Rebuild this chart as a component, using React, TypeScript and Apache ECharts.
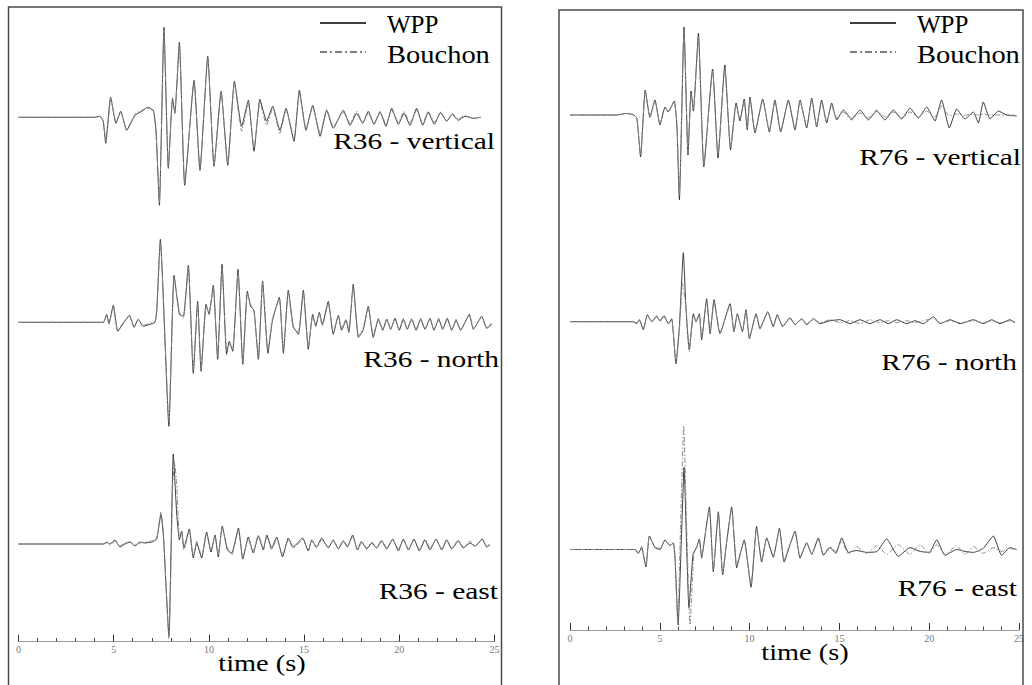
import React, { useEffect, useRef } from "react";
import * as echarts from "echarts";

// ---- data: [time (s), amplitude (arbitrary units)] ----
const SERIES_NAMES = ["WPP", "Bouchon"];
const TRACE_LABELS = ["R36 - vertical", "R36 - north", "R36 - east", "R76 - vertical", "R76 - north", "R76 - east"];
const TIME_MIN = 0;
const TIME_MAX = 25;
const TIME_STEP = 5;
const AXIS_TITLE = "time (s)";

const R36_VERTICAL_WPP = [[0,0],[4.0,0],[4.28,1],[4.45,-4],[4.58,-26],[4.84,20],[5.12,-6],[5.37,6],[5.68,-13],[6.12,2],[6.56,7],[6.77,10],[7.08,7],[7.22,-13],[7.40,-88],[7.64,90],[7.87,-51],[8.09,19],[8.21,4],[8.45,75],[8.73,-68],[9.22,37],[9.53,-53],[9.94,61],[10.27,-49],[10.64,26],[10.99,-48],[11.34,36],[11.72,-9],[12.07,17],[12.37,-34],[12.68,18],[13.03,-4],[13.35,11],[13.73,-13],[14.05,9],[14.47,-24],[14.75,27],[15.10,-13],[15.45,12],[15.84,-19],[16.19,7],[16.53,-11],[17.06,7],[17.41,-8],[17.76,4],[18.08,-6],[18.37,6],[18.67,-7],[18.99,5],[19.30,-9],[19.60,9],[19.95,-7],[20.25,4],[20.56,-8],[20.91,9],[21.23,-8],[21.52,5],[21.84,-7],[22.17,5],[22.49,-4],[22.78,3],[23.10,-3],[23.45,1],[23.89,-1],[24.28,0]];
const R36_VERTICAL_BOUCHON = [[0,0],[4.0,0],[4.28,1],[4.45,-4],[4.60,-24],[4.85,19],[5.12,-5],[5.37,6],[5.68,-12],[6.12,3],[6.56,8],[6.77,9],[7.08,6],[7.22,-12],[7.40,-85],[7.64,88],[7.87,-50],[8.09,18],[8.21,5],[8.45,73],[8.73,-66],[9.22,36],[9.53,-52],[9.94,59],[10.27,-48],[10.64,25],[10.99,-47],[11.34,34],[11.72,-14],[12.07,14],[12.37,-30],[12.68,15],[13.03,-8],[13.35,9],[13.73,-16],[14.05,7],[14.47,-20],[14.75,24],[15.10,-11],[15.45,10],[15.84,-16],[16.19,8],[16.53,-9],[17.06,5],[17.41,-6],[17.76,6],[18.08,-5],[18.37,4],[18.67,-6],[18.99,6],[19.30,-7],[19.60,7],[19.95,-5],[20.25,6],[20.56,-6],[20.91,7],[21.23,-6],[21.52,6],[21.84,-5],[22.17,4],[22.49,-4],[22.78,4],[23.10,-2],[23.45,2],[23.89,-1],[24.28,0]];

const R36_NORTH_WPP = [[0,0],[4.45,0],[4.63,8],[4.75,-1],[4.98,17],[5.21,-9],[5.51,-1],[5.82,7],[6.07,-5],[6.29,3],[6.55,-4],[6.91,-2],[7.17,0],[7.26,11],[7.45,83],[7.90,-104],[8.17,47],[8.45,8],[8.66,6],[8.92,57],[9.18,-51],[9.41,21],[9.59,-49],[9.85,18],[10.01,8],[10.23,37],[10.46,-37],[10.69,58],[10.93,-32],[11.07,-19],[11.25,-29],[11.53,53],[11.78,-42],[12.02,31],[12.19,16],[12.37,12],[12.60,-37],[12.82,41],[13.10,-31],[13.33,1],[13.70,25],[13.91,-31],[14.17,32],[14.43,-4],[14.70,-12],[14.96,32],[15.22,-27],[15.45,8],[15.61,-4],[15.80,10],[15.96,-2],[16.27,21],[16.53,-12],[16.80,7],[16.97,-8],[17.20,2],[17.35,-10],[17.58,38],[17.85,-15],[18.10,-8],[18.37,16],[18.63,-15],[18.90,3],[19.13,-8],[19.34,3],[19.55,-7],[19.77,4],[20.00,-8],[20.21,3],[20.42,-7],[20.65,3],[20.88,-8],[21.12,3],[21.35,-7],[21.61,4],[21.82,-8],[22.07,3],[22.28,-7],[22.52,4],[22.75,-8],[22.98,2],[23.22,-8],[23.68,8],[23.89,-7],[24.33,6],[24.59,-6],[24.85,-2]];
const R36_NORTH_BOUCHON = [[0,0],[4.45,0],[4.63,7],[4.75,-2],[4.98,15],[5.21,-8],[5.51,0],[5.82,6],[6.07,-4],[6.29,3],[6.55,-3],[6.91,-1],[7.17,1],[7.26,12],[7.45,80],[7.90,-100],[8.17,45],[8.45,10],[8.66,4],[8.92,55],[9.18,-48],[9.41,19],[9.59,-47],[9.85,16],[10.01,10],[10.23,35],[10.46,-35],[10.69,55],[10.93,-28],[11.07,-22],[11.25,-26],[11.53,50],[11.78,-40],[12.02,29],[12.19,18],[12.37,10],[12.60,-35],[12.82,39],[13.10,-29],[13.33,3],[13.70,23],[13.91,-29],[14.17,30],[14.43,-6],[14.70,-10],[14.96,30],[15.22,-25],[15.45,6],[15.61,-2],[15.80,8],[15.96,-4],[16.27,19],[16.53,-10],[16.80,6],[16.97,-6],[17.20,3],[17.35,-8],[17.58,35],[17.85,-13],[18.10,-6],[18.37,14],[18.63,-13],[18.90,4],[19.13,-7],[19.34,4],[19.55,-6],[19.77,3],[20.00,-7],[20.21,4],[20.42,-6],[20.65,4],[20.88,-7],[21.12,4],[21.35,-6],[21.61,3],[21.82,-7],[22.07,4],[22.28,-6],[22.52,3],[22.75,-7],[22.98,3],[23.22,-7],[23.68,7],[23.89,-6],[24.33,5],[24.59,-5],[24.85,-1]];

const R36_EAST_WPP = [[0,0],[4.46,0],[4.63,2],[4.80,0],[5.07,4],[5.33,-3],[5.59,0],[5.86,2],[6.12,-2],[6.38,2],[6.64,1],[7.00,2],[7.26,5],[7.48,30],[7.61,9],[7.90,-92],[8.13,90],[8.31,30],[8.45,4],[8.57,13],[8.69,-4],[8.97,15],[9.18,-14],[9.36,1],[9.62,-14],[9.88,12],[10.11,-8],[10.32,9],[10.49,-13],[10.70,18],[10.97,-6],[11.20,-9],[11.55,16],[11.78,-15],[12.07,7],[12.33,-9],[12.60,8],[12.86,-6],[13.04,9],[13.30,-4],[13.56,7],[13.87,-13],[14.17,6],[14.43,-3],[14.92,6],[15.22,-7],[15.40,4],[15.66,-3],[15.92,6],[16.27,-4],[16.53,4],[16.80,-5],[17.06,3],[17.27,-3],[17.55,9],[17.80,-6],[18.02,2],[18.29,-5],[18.55,1],[18.81,-4],[19.07,3],[19.34,-5],[19.65,5],[19.95,-7],[20.21,5],[20.48,-6],[20.77,5],[21.05,-7],[21.35,4],[21.61,-6],[21.93,5],[22.23,-6],[22.49,4],[22.75,-5],[23.10,3],[23.36,-4],[23.71,1],[23.98,-2],[24.36,5],[24.59,-3],[24.76,-1]];
const R36_EAST_BOUCHON = [[0,0],[4.46,0],[4.63,1],[4.80,-1],[5.07,3],[5.33,-2],[5.59,1],[5.86,2],[6.12,-1],[6.38,1],[6.64,2],[7.00,3],[7.26,6],[7.48,32],[7.61,10],[7.90,-95],[8.10,60],[8.20,82],[8.31,60],[8.45,8],[8.57,11],[8.69,-6],[8.97,13],[9.18,-12],[9.36,3],[9.62,-12],[9.88,10],[10.11,-6],[10.32,8],[10.49,-11],[10.70,16],[10.97,-4],[11.20,-11],[11.55,14],[11.78,-13],[12.07,5],[12.33,-7],[12.60,9],[12.86,-4],[13.04,7],[13.30,-6],[13.56,5],[13.87,-10],[14.17,4],[14.43,-4],[14.92,4],[15.22,-5],[15.40,3],[15.66,-4],[15.92,4],[16.27,-3],[16.53,3],[16.80,-4],[17.06,4],[17.27,-2],[17.55,7],[17.80,-5],[18.02,3],[18.29,-4],[18.55,2],[18.81,-3],[19.07,4],[19.34,-4],[19.65,4],[19.95,-5],[20.21,4],[20.48,-5],[20.77,4],[21.05,-5],[21.35,5],[21.61,-4],[21.93,4],[22.23,-5],[22.49,5],[22.75,-4],[23.10,4],[23.36,-3],[23.71,3],[23.98,-2],[24.36,4],[24.59,-2],[24.76,0]];

const R76_VERTICAL_WPP = [[0,0],[2.6,0],[3.1,1.5],[3.5,0.5],[3.72,-3],[3.93,-42],[4.19,25],[4.45,-2],[4.73,15],[5.01,-10],[5.29,8],[5.47,3],[5.80,14],[5.95,-10],[6.09,-85],[6.35,88],[6.57,-40],[6.74,24],[6.87,4],[7.15,82],[7.45,-52],[7.94,46],[8.24,-43],[8.62,50],[8.94,-35],[9.25,12],[9.46,-6],[9.70,16],[9.87,-15],[10.02,18],[10.30,-18],[10.73,16],[11.10,-17],[11.41,15],[11.73,-17],[12.16,15],[12.53,-15],[12.81,15],[13.18,-13],[13.46,17],[13.73,-12],[14.01,15],[14.29,-8],[14.57,12],[14.85,-5],[15.22,5],[15.68,-4],[16.15,5],[16.61,-5],[17.07,4],[17.54,-5],[18.00,5],[18.47,-4],[18.93,7],[19.40,-3],[19.86,8],[20.32,-6],[20.69,15],[21.12,-13],[21.53,6],[21.99,-4],[22.46,3],[22.74,-8],[23.01,13],[23.39,-4],[23.85,4],[24.31,0],[24.87,-1]];
const R76_VERTICAL_BOUCHON = [[0,0],[2.6,0],[3.1,1.5],[3.5,0.5],[3.72,-3],[3.93,-40],[4.19,24],[4.45,-3],[4.73,14],[5.01,-9],[5.29,7],[5.47,4],[5.80,13],[5.95,-8],[6.09,-80],[6.35,85],[6.57,-38],[6.74,22],[6.87,6],[7.15,78],[7.45,-50],[7.94,44],[8.24,-40],[8.62,47],[8.94,-33],[9.25,10],[9.46,-4],[9.70,14],[9.87,-13],[10.02,16],[10.30,-16],[10.73,14],[11.10,-15],[11.41,14],[11.73,-15],[12.16,13],[12.53,-13],[12.81,13],[13.18,-11],[13.46,14],[13.73,-10],[14.01,12],[14.29,-6],[14.57,9],[14.85,-3],[15.22,3],[15.68,-5],[16.15,2],[16.61,-3],[17.07,5],[17.54,-2],[18.00,3],[18.47,-3],[18.93,3],[19.40,-2],[19.86,4],[20.32,-2],[20.69,9],[21.12,-1],[21.53,1],[21.99,0],[22.46,1],[22.74,0],[23.01,1],[23.39,0],[23.85,0],[24.31,0],[24.87,0]];

const R76_NORTH_WPP = [[0,0],[3.50,0],[3.71,-2],[3.86,2],[4.08,-8],[4.31,7],[4.55,0],[4.83,5],[5.01,1],[5.23,6],[5.47,-2],[5.66,3],[5.90,-42],[6.09,-5],[6.31,69],[6.46,12],[6.64,-28],[6.87,8],[7.02,0],[7.20,8],[7.33,-18],[7.61,23],[7.80,-12],[8.02,22],[8.35,-12],[8.91,18],[9.13,-10],[9.32,8],[9.60,-10],[9.80,12],[9.99,-17],[10.36,8],[10.58,-7],[11.01,10],[11.32,-5],[11.54,7],[11.84,-5],[12.25,4],[12.53,-3],[12.90,3],[13.18,-3],[13.55,3],[13.92,-2],[14.48,1],[15.03,2],[15.59,-2],[16.15,2],[16.70,-2],[17.26,2],[17.72,-2],[18.19,2],[18.75,-2],[19.21,1],[19.67,-2],[20.23,5],[20.60,-2],[21.16,2],[21.72,-2],[22.46,2],[23.01,-2],[23.48,2],[23.94,-2],[24.50,2],[24.78,-1]];
const R76_NORTH_BOUCHON = [[0,0],[3.50,0],[3.71,-1],[3.86,2],[4.08,-7],[4.31,6],[4.55,1],[4.83,6],[5.01,0],[5.23,5],[5.47,-1],[5.66,2],[5.90,-40],[6.09,-8],[6.27,38],[6.46,15],[6.64,-30],[6.87,6],[7.02,1],[7.20,7],[7.33,-16],[7.61,21],[7.80,-10],[8.02,20],[8.35,-11],[8.91,16],[9.13,-9],[9.32,7],[9.60,-9],[9.80,10],[9.99,-15],[10.36,7],[10.58,-6],[11.01,9],[11.32,-4],[11.54,6],[11.84,-4],[12.25,3],[12.53,-2],[12.90,2],[13.18,-2],[13.55,2],[13.92,-1],[14.48,2],[15.03,-1],[15.59,1],[16.15,-2],[16.70,2],[17.26,-1],[17.72,1],[18.19,-1],[18.75,1],[19.21,-1],[19.67,1],[20.23,3],[20.60,-1],[21.16,1],[21.72,-1],[22.46,1],[23.01,-1],[23.48,1],[23.94,-1],[24.50,1],[24.78,0]];

const R76_EAST_WPP = [[0,0],[3.62,0],[3.80,-4],[3.99,2],[4.12,-9],[4.23,-18],[4.42,14],[4.73,2],[5.01,0],[5.29,10],[5.57,4],[5.75,7],[5.85,-10],[6.02,-78],[6.20,10],[6.35,85],[6.50,0],[6.62,-60],[6.85,-5],[7.05,2],[7.20,11],[7.33,-9],[7.45,5],[7.76,44],[7.98,-23],[8.26,39],[8.50,-26],[8.72,7],[9.00,44],[9.28,-19],[9.50,-3],[9.70,10],[10.08,-39],[10.39,24],[10.67,-13],[10.95,12],[11.32,-8],[11.66,22],[11.92,-13],[12.25,5],[12.53,19],[12.81,-9],[13.18,7],[13.46,-5],[13.83,12],[14.11,-6],[14.48,2],[14.80,-4],[15.13,12],[15.50,-3],[15.95,-1],[16.52,-3],[17.10,-2],[17.63,11],[18.28,-7],[18.93,2],[19.49,-2],[20.00,-3],[20.42,10],[20.88,-6],[21.53,0],[22.00,-2],[22.46,-3],[23.00,1],[23.57,14],[24.03,-6],[24.50,2],[24.87,0]];
const R76_EAST_BOUCHON = [[0,0],[3.62,0],[3.80,-3],[3.99,3],[4.12,-8],[4.23,-16],[4.42,13],[4.73,3],[5.01,1],[5.29,9],[5.57,5],[5.75,6],[5.85,-8],[6.00,-78],[6.15,20],[6.33,128],[6.50,20],[6.68,-78],[6.90,-3],[7.05,3],[7.20,10],[7.33,-8],[7.45,6],[7.76,42],[7.98,-21],[8.26,37],[8.50,-24],[8.72,8],[9.00,42],[9.28,-17],[9.50,-2],[9.70,9],[10.08,-36],[10.39,22],[10.67,-11],[10.95,11],[11.32,-6],[11.66,20],[11.92,-11],[12.25,6],[12.53,17],[12.81,-7],[13.18,6],[13.46,-4],[13.83,10],[14.11,-5],[14.48,3],[14.80,-2],[15.13,9],[15.50,-5],[15.95,3],[16.52,-4],[17.10,4],[17.63,-5],[18.28,5],[18.93,-5],[19.49,5],[20.00,-4],[20.42,5],[20.88,-5],[21.53,4],[22.00,-5],[22.46,3],[23.00,-4],[23.57,2],[24.03,-2],[24.50,1],[24.87,0]];

// ---- layout (pixels) ----
const PANELS = [
  { left: 18.5, width: 476, axisY: 641.5, box: [8.5, 7, 493, 700], legendLineX: 320, legendTextX: 387, titleX: 262, titleY: 663 },
  { left: 570, width: 449, axisY: 630, box: [559, 10, 464, 700], legendLineX: 850, legendTextX: 917, titleX: 805, titleY: 652 },
];

const TRACES = [
  { panel: 0, wpp: R36_VERTICAL_WPP, bou: R36_VERTICAL_BOUCHON, base: 117.3, h: 110, labelX: 495, labelY: 141 },
  { panel: 0, wpp: R36_NORTH_WPP, bou: R36_NORTH_BOUCHON, base: 322.3, h: 140, labelX: 499, labelY: 359 },
  { panel: 0, wpp: R36_EAST_WPP, bou: R36_EAST_BOUCHON, base: 544, h: 140, labelX: 498, labelY: 591 },
  { panel: 1, wpp: R76_VERTICAL_WPP, bou: R76_VERTICAL_BOUCHON, base: 115, h: 110, labelX: 1021, labelY: 157 },
  { panel: 1, wpp: R76_NORTH_WPP, bou: R76_NORTH_BOUCHON, base: 321.7, h: 140, labelX: 1017, labelY: 362 },
  { panel: 1, wpp: R76_EAST_WPP, bou: R76_EAST_BOUCHON, base: 554, h: 140, labelX: 1017, labelY: 588 },
];

const SERIF = "Liberation Serif";

function txt(text: string, x: number, y: number, size: number, sx: number, align: string) {
  return {
    type: "text", x, y, scaleX: sx, z: 20,
    style: { text, fontFamily: SERIF, fontSize: size, fill: "#000", align, verticalAlign: "middle", textAlign: align, textVerticalAlign: "middle" },
  };
}

function buildOption() {
  const grid: any[] = [];
  const xAxis: any[] = [];
  const yAxis: any[] = [];
  const series: any[] = [];
  const graphic: any[] = [];

  TRACES.forEach((tr, i) => {
    const p = PANELS[tr.panel];
    grid.push({ left: p.left, width: p.width, top: tr.base - tr.h, height: 2 * tr.h });
    xAxis.push({ type: "value", gridIndex: i, min: TIME_MIN, max: TIME_MAX, show: false });
    yAxis.push({ type: "value", gridIndex: i, min: -tr.h, max: tr.h, show: false });
    series.push({
      type: "line", name: SERIES_NAMES[0], xAxisIndex: i, yAxisIndex: i, data: tr.wpp,
      showSymbol: false, symbol: "none", smooth: 0.15, clip: false, z: 2,
      lineStyle: { color: "#2a2a2a", width: 0.9 },
    });
    series.push({
      type: "line", name: SERIES_NAMES[1], xAxisIndex: i, yAxisIndex: i, data: tr.bou,
      showSymbol: false, symbol: "none", smooth: 0.15, clip: false, z: 3,
      lineStyle: { color: "#8a8a8a", width: 1, type: [5, 2, 1.5, 2] },
    });
    graphic.push(txt(TRACE_LABELS[i], tr.labelX, tr.labelY, 23, 1.28, "right"));
  });

  PANELS.forEach((p, k) => {
    const gi = TRACES.length + k;
    grid.push({ left: p.left, width: p.width, top: 20, height: p.axisY - 20 });
    xAxis.push({
      type: "value", gridIndex: gi, min: TIME_MIN, max: TIME_MAX, interval: TIME_STEP, position: "bottom",
      axisLine: { show: true, onZero: false, lineStyle: { color: "#9a9a9a", width: 1 } },
      axisTick: { show: true, inside: true, length: 7, lineStyle: { color: "#333", width: 1 } },
      minorTick: { show: true, splitNumber: 5, length: 3.5, lineStyle: { color: "#444", width: 1 } },
      axisLabel: { show: true, fontSize: 10, color: "#777", margin: 3, fontFamily: "Liberation Sans Narrow" },
      splitLine: { show: false },
    });
    yAxis.push({ type: "value", gridIndex: gi, min: -1, max: 1, show: false });
    series.push({ type: "line", xAxisIndex: gi, yAxisIndex: gi, data: [], silent: true });

    const [bx, by, bw, bh] = p.box;
    graphic.push({ type: "rect", shape: { x: bx, y: by, width: bw, height: bh }, style: { fill: "none", stroke: "#4a4a4a", lineWidth: 1.5 }, z: 10 });
    // legend
    graphic.push({ type: "line", shape: { x1: p.legendLineX, y1: 23, x2: p.legendLineX + 46, y2: 23 }, style: { stroke: "#000", lineWidth: 1.3 } });
    graphic.push({ type: "line", shape: { x1: p.legendLineX, y1: 52, x2: p.legendLineX + 46, y2: 52 }, style: { stroke: "#000", lineWidth: 1.2, lineDash: [7, 3, 2, 3] } });
    graphic.push(txt(SERIES_NAMES[0], p.legendTextX, 24, 25, 1.0, "left"));
    graphic.push(txt(SERIES_NAMES[1], p.legendTextX, 55, 25, 1.14, "left"));
    graphic.push(txt(AXIS_TITLE, p.titleX, p.titleY, 24, 1.18, "center"));
  });

  return { animation: false, backgroundColor: "#fff", grid, xAxis, yAxis, series, graphic };
}

export default function App() {
  const ref = useRef<HTMLDivElement>(null);
  useEffect(() => {
    if (!ref.current) return;
    const chart = echarts.init(ref.current, undefined, { renderer: "svg" });
    chart.setOption(buildOption() as any);
    return () => chart.dispose();
  }, []);
  return <div ref={ref} style={{ position: "absolute", left: 0, top: 0, width: 1032, height: 685, background: "#fff" }} />;
}
